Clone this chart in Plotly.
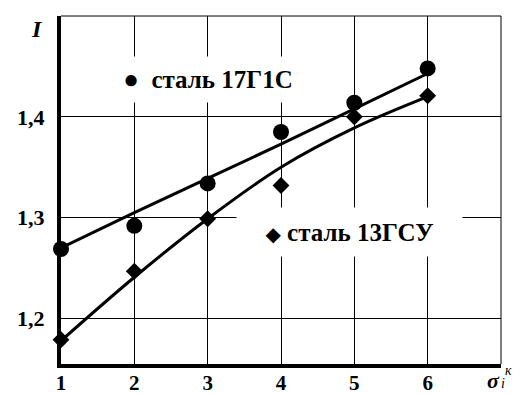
import plotly.graph_objects as go

# data
x_vals = [1, 2, 3, 4, 5, 6]
steel_17g1s = [1.269, 1.292, 1.334, 1.385, 1.414, 1.448]
steel_13gsu = [1.179, 1.247, 1.299, 1.332, 1.400, 1.421]
fit_17g1s = [1.270, 1.305, 1.339, 1.373, 1.408, 1.443]
fit_13gsu = [1.178, 1.241, 1.299, 1.350, 1.389, 1.420]
x_ticks = [1, 2, 3, 4, 5, 6]
x_labels = ["1", "2", "3", "4", "5", "6"]
y_ticks = [1.2, 1.3, 1.4]
y_labels = ["1,2", "1,3", "1,4"]

serif = "Liberation Serif, Times New Roman, DejaVu Serif, serif"

fig = go.Figure()
fig.add_trace(go.Scatter(x=x_vals, y=fit_17g1s, mode="lines",
                         line=dict(color="black", width=3), showlegend=False))
fig.add_trace(go.Scatter(x=x_vals, y=fit_13gsu, mode="lines", line_shape="spline",
                         line=dict(color="black", width=3), showlegend=False))
fig.add_trace(go.Scatter(x=x_vals, y=steel_17g1s, mode="markers",
                         marker=dict(symbol="circle", size=16, color="black"),
                         showlegend=False, cliponaxis=False))
fig.add_trace(go.Scatter(x=x_vals, y=steel_13gsu, mode="markers",
                         marker=dict(symbol="diamond", size=13, color="black"),
                         showlegend=False, cliponaxis=False))

# thin top and right border
fig.add_shape(type="line", xref="paper", yref="paper", x0=0, x1=1, y0=1, y1=1,
              line=dict(color="black", width=1), layer="below")
fig.add_shape(type="line", xref="paper", yref="paper", x0=1, x1=1, y0=0, y1=1,
              line=dict(color="black", width=1), layer="below")

fig.add_annotation(x=3.005, y=1.4375, xref="x", yref="y", xanchor="center", yanchor="middle",
                   text="<b><span style='font-size:26px'>●</span>&nbsp; сталь 17Г1С</b>", showarrow=False,
                   bgcolor="white", borderpad=0, width=204, height=45, align="center",
                   font=dict(family=serif, size=25, color="black"))
fig.add_annotation(x=4.934, y=1.286, xref="x", yref="y", xanchor="center", yanchor="middle",
                   text="<b><span style='font-size:20px'>◆</span> сталь 13ГСУ</b>", showarrow=False,
                   bgcolor="white", borderpad=0, width=225, height=48, align="center",
                   font=dict(family=serif, size=25, color="black"))

# axis titles
fig.add_annotation(x=-0.055, y=0.962, xref="paper", yref="paper", text="<b><i>I</i></b>",
                   showarrow=False, xanchor="center", yanchor="middle",
                   font=dict(family=serif, size=24, color="black"))
fig.add_annotation(x=0.984, y=-0.047, xref="paper", yref="paper", text="<b><i>σ</i></b>",
                   showarrow=False, xanchor="center", yanchor="middle",
                   font=dict(family=serif, size=22, color="black"))
fig.add_annotation(x=1.005, y=-0.055, xref="paper", yref="paper", text="<i>i</i>",
                   showarrow=False, xanchor="center", yanchor="middle",
                   font=dict(family=serif, size=14, color="black"))
fig.add_annotation(x=1.018, y=-0.02, xref="paper", yref="paper", text="<i>к</i>",
                   showarrow=False, xanchor="center", yanchor="middle",
                   font=dict(family=serif, size=14, color="black"))

fig.update_layout(
    width=520, height=395,
    margin=dict(l=61, r=19, t=16, b=31, autoexpand=False),
    paper_bgcolor="white", plot_bgcolor="white",
    showlegend=False,
)
fig.update_xaxes(range=[1, 7], tickvals=x_ticks, ticktext=["<b>%s</b>" % t for t in x_labels],
                 showgrid=True, gridcolor="black", gridwidth=1, automargin=False,
                 showline=True, linecolor="black", linewidth=4, ticks="", zeroline=False,
                 ticklabelstandoff=-3,
                 tickfont=dict(family=serif, size=21, color="black"))
fig.update_yaxes(range=[1.155, 1.5], tickvals=y_ticks, ticktext=["<b>%s</b>" % t for t in y_labels],
                 showgrid=True, gridcolor="black", gridwidth=1, showline=True, linecolor="black",
                 linewidth=4, ticks="", zeroline=False, ticklabelstandoff=8, automargin=False,
                 tickfont=dict(family=serif, size=22, color="black"))

fig.write_html("out.html", config={"displayModeBar": False},
               post_script="document.body.style.margin='0';")
